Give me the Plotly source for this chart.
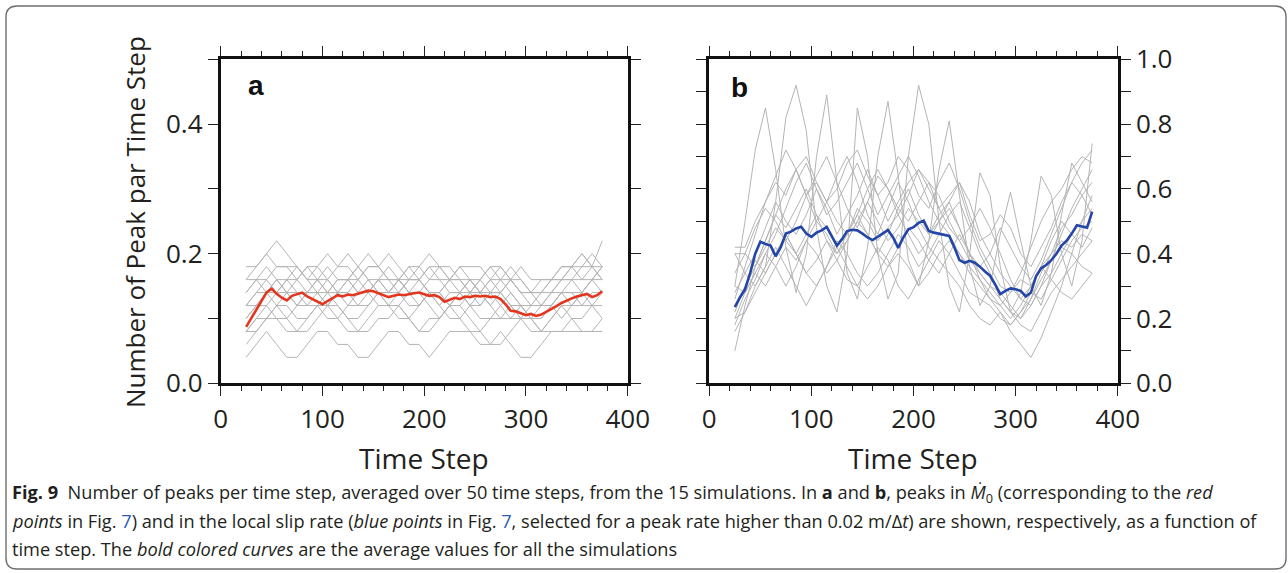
import plotly.graph_objects as go

W, H = 1288, 573

# ---------------- data ----------------
time_coarse = list(range(25, 376, 10))   # time steps for the individual simulations
time_fine = list(range(25, 376, 5))      # time steps for the averages

# panel a: peaks in M0-dot, counts of peaks in a 50-step window (value = count / 50)
a_sim_counts = [
    [2,3,4,3,2,2,3,4,4,3,3,2,2,3,4,4,3,3,2,3,4,4,4,3,3,4,3,2,2,3,4,4,4,4,4,4],
    [4,5,6,5,5,4,4,5,6,6,5,4,4,5,5,6,5,4,4,5,6,5,4,4,5,5,6,5,4,4,5,6,5,4,4,5],
    [5,6,7,8,7,6,6,7,8,7,6,6,7,8,8,7,6,6,7,7,8,7,6,5,5,6,7,6,5,5,6,7,7,6,6,7],
    [6,7,8,7,8,7,7,8,7,8,8,7,7,8,7,7,8,8,7,7,6,7,8,7,7,8,7,6,6,7,7,8,8,7,8,8],
    [7,8,9,8,7,8,9,8,7,7,8,9,8,8,7,8,9,8,7,7,8,8,7,7,8,9,8,7,6,6,7,8,9,8,8,9],
    [8,9,10,11,10,9,8,8,9,8,8,9,10,9,8,8,7,8,9,8,8,9,8,7,8,8,9,8,7,7,8,8,9,10,9,11],
    [3,4,5,6,6,5,5,6,7,6,5,5,6,7,6,6,5,6,7,6,5,5,6,7,6,5,5,6,5,4,5,6,6,7,6,6],
    [6,7,7,6,5,6,7,7,6,5,6,7,8,7,6,6,7,7,6,5,6,7,7,8,7,6,5,5,6,6,7,7,6,6,7,7],
    [7,8,8,9,9,8,7,8,8,9,10,9,8,7,7,8,8,9,10,9,8,8,7,8,9,9,8,7,7,8,8,9,9,10,9,9],
    [4,4,5,5,4,4,5,6,5,5,4,4,5,6,6,5,5,4,5,5,6,6,5,4,3,3,4,5,5,4,4,4,5,5,6,5],
    [9,9,10,9,9,9,8,9,10,9,9,8,9,9,10,9,8,8,9,9,8,9,9,9,8,7,8,9,8,8,8,9,9,9,10,9],
    [5,6,6,7,7,6,7,7,6,7,7,6,6,7,7,8,7,6,7,7,6,6,7,6,7,7,6,6,5,6,6,5,6,7,8,7],
    [8,8,7,7,8,8,9,9,8,7,7,8,9,9,8,8,9,9,8,8,7,7,8,8,9,8,8,7,7,7,8,8,8,9,9,8],
    [6,6,7,8,8,9,8,7,7,8,8,7,7,8,9,8,7,7,8,9,9,8,8,7,6,7,8,8,7,6,6,7,8,8,9,8],
    [4,5,5,6,7,7,6,6,6,7,8,8,7,6,6,7,8,8,7,6,7,7,6,6,7,7,6,5,5,5,6,7,7,7,8,9],
]
WINDOW = 50

a_mean = [0.087,0.100,0.115,0.128,0.140,0.146,0.138,0.132,0.128,0.135,0.138,0.140,
          0.134,0.130,0.126,0.122,0.127,0.132,0.136,0.134,0.137,0.136,0.138,0.140,
          0.143,0.142,0.139,0.136,0.133,0.135,0.137,0.136,0.138,0.139,0.140,0.137,
          0.135,0.136,0.133,0.126,0.129,0.132,0.130,0.134,0.133,0.135,0.134,0.135,
          0.133,0.134,0.130,0.122,0.112,0.111,0.108,0.105,0.107,0.104,0.106,0.110,
          0.115,0.119,0.124,0.128,0.131,0.134,0.136,0.138,0.133,0.136,0.142]

# panel b: peaks in the local slip rate
b_sims = [
    [0.30,0.50,0.72,0.85,0.66,0.42,0.28,0.40,0.70,0.89,0.62,0.34,0.26,0.42,0.70,0.87,0.64,0.38,
     0.30,0.44,0.66,0.81,0.58,0.36,0.24,0.30,0.46,0.59,0.44,0.30,0.24,0.34,0.52,0.68,0.62,0.56],
    [0.40,0.34,0.30,0.36,0.56,0.82,0.92,0.78,0.48,0.30,0.22,0.40,0.85,0.70,0.40,0.26,0.34,0.70,
     0.92,0.80,0.50,0.30,0.22,0.40,0.65,0.58,0.36,0.22,0.28,0.44,0.64,0.58,0.40,0.30,0.44,0.74],
    [0.42,0.42,0.50,0.56,0.62,0.58,0.66,0.70,0.62,0.56,0.60,0.68,0.72,0.64,0.58,0.62,0.70,0.66,
     0.58,0.54,0.62,0.68,0.60,0.50,0.42,0.36,0.30,0.28,0.34,0.42,0.50,0.56,0.60,0.66,0.70,0.68],
    [0.40,0.40,0.36,0.42,0.48,0.44,0.40,0.46,0.52,0.48,0.42,0.46,0.54,0.50,0.44,0.48,0.52,0.46,
     0.40,0.44,0.50,0.46,0.40,0.34,0.30,0.26,0.24,0.28,0.32,0.30,0.36,0.40,0.44,0.42,0.46,0.44],
    [0.10,0.24,0.36,0.44,0.52,0.60,0.66,0.58,0.50,0.56,0.64,0.70,0.62,0.52,0.46,0.54,0.62,0.56,
     0.48,0.42,0.38,0.34,0.30,0.24,0.20,0.18,0.22,0.16,0.12,0.08,0.14,0.22,0.30,0.40,0.50,0.58],
    [0.22,0.30,0.38,0.34,0.40,0.46,0.40,0.34,0.38,0.44,0.38,0.32,0.30,0.36,0.42,0.38,0.30,0.26,
     0.32,0.38,0.44,0.40,0.34,0.28,0.26,0.24,0.20,0.18,0.22,0.26,0.32,0.38,0.42,0.40,0.36,0.34],
    [0.26,0.36,0.46,0.56,0.64,0.72,0.66,0.58,0.64,0.70,0.62,0.54,0.48,0.56,0.64,0.60,0.52,0.58,
     0.66,0.62,0.54,0.48,0.44,0.48,0.54,0.48,0.40,0.32,0.26,0.24,0.30,0.38,0.46,0.54,0.60,0.66],
    [0.18,0.26,0.32,0.40,0.36,0.30,0.36,0.44,0.50,0.46,0.40,0.44,0.50,0.56,0.50,0.44,0.48,0.54,
     0.50,0.46,0.52,0.56,0.48,0.40,0.34,0.30,0.26,0.22,0.20,0.24,0.30,0.34,0.40,0.46,0.50,0.54],
    [0.34,0.40,0.48,0.54,0.50,0.44,0.50,0.58,0.62,0.56,0.50,0.46,0.52,0.60,0.66,0.60,0.54,0.50,
     0.56,0.62,0.58,0.50,0.44,0.38,0.34,0.30,0.28,0.24,0.20,0.26,0.34,0.40,0.48,0.52,0.58,0.62],
    [0.20,0.22,0.28,0.34,0.40,0.46,0.40,0.34,0.30,0.36,0.44,0.40,0.34,0.30,0.34,0.40,0.46,0.42,
     0.36,0.40,0.46,0.52,0.56,0.48,0.40,0.34,0.26,0.22,0.18,0.16,0.22,0.28,0.32,0.36,0.40,0.44],
    [0.28,0.34,0.40,0.48,0.56,0.50,0.46,0.52,0.60,0.54,0.46,0.52,0.58,0.66,0.58,0.50,0.56,0.62,
     0.66,0.60,0.54,0.58,0.62,0.52,0.44,0.46,0.52,0.48,0.40,0.36,0.42,0.48,0.56,0.62,0.68,0.72],
    [0.16,0.22,0.30,0.36,0.42,0.36,0.30,0.24,0.30,0.36,0.42,0.36,0.30,0.26,0.30,0.36,0.40,0.36,
     0.30,0.34,0.40,0.44,0.40,0.36,0.32,0.28,0.24,0.20,0.24,0.30,0.36,0.32,0.28,0.26,0.30,0.34],
    [0.24,0.30,0.36,0.44,0.52,0.48,0.54,0.60,0.52,0.44,0.40,0.46,0.52,0.46,0.40,0.46,0.54,0.60,
     0.52,0.46,0.50,0.56,0.62,0.56,0.46,0.40,0.34,0.30,0.26,0.30,0.36,0.44,0.50,0.46,0.42,0.48],
    [0.30,0.28,0.34,0.40,0.46,0.54,0.62,0.68,0.60,0.52,0.56,0.62,0.68,0.60,0.52,0.58,0.64,0.70,
     0.64,0.56,0.50,0.54,0.48,0.40,0.36,0.40,0.48,0.42,0.36,0.32,0.38,0.46,0.54,0.62,0.58,0.52],
    [0.20,0.28,0.34,0.30,0.36,0.42,0.38,0.44,0.40,0.34,0.38,0.44,0.50,0.46,0.40,0.36,0.42,0.48,
     0.44,0.38,0.34,0.40,0.46,0.40,0.32,0.26,0.22,0.18,0.22,0.28,0.26,0.32,0.38,0.44,0.48,0.50],
]

b_mean = [0.235,0.265,0.290,0.340,0.400,0.437,0.430,0.425,0.392,0.420,0.462,0.468,
          0.478,0.483,0.462,0.452,0.465,0.472,0.483,0.455,0.425,0.445,0.470,0.474,
          0.472,0.462,0.450,0.442,0.452,0.462,0.473,0.450,0.418,0.450,0.475,0.482,
          0.495,0.502,0.470,0.465,0.462,0.460,0.455,0.420,0.380,0.372,0.378,0.372,
          0.360,0.345,0.332,0.305,0.275,0.285,0.293,0.290,0.285,0.268,0.280,0.330,
          0.355,0.365,0.380,0.400,0.425,0.440,0.462,0.488,0.485,0.480,0.530]

x_ticks = [0, 100, 200, 300, 400]
ya_ticks = [0.0, 0.2, 0.4]
yb_ticks = [0.0, 0.2, 0.4, 0.6, 0.8, 1.0]

# ---------------- styling ----------------
GRAY = "#b4b4b4"
RED = "#e4361f"
BLUE = "#2446a8"
FONT = "Open Sans"
TXT = "#231f20"

def px(x):
    return x / W

def py(y):
    return 1 - y / H

fig = go.Figure()

for counts in a_sim_counts:
    fig.add_trace(go.Scatter(x=time_coarse, y=[c / WINDOW for c in counts], mode="lines",
                             line=dict(color=GRAY, width=1), xaxis="x", yaxis="y",
                             showlegend=False, hoverinfo="skip"))
fig.add_trace(go.Scatter(x=time_fine, y=a_mean, mode="lines",
                         line=dict(color=RED, width=2.6), xaxis="x", yaxis="y",
                         showlegend=False))

for s in b_sims:
    fig.add_trace(go.Scatter(x=time_coarse, y=s, mode="lines",
                             line=dict(color=GRAY, width=1), xaxis="x2", yaxis="y2",
                             showlegend=False, hoverinfo="skip"))
fig.add_trace(go.Scatter(x=time_fine, y=b_mean, mode="lines",
                         line=dict(color=BLUE, width=2.6), xaxis="x2", yaxis="y2",
                         showlegend=False))

y_dom = [py(383.3), py(59.3)]
xa_dom = [px(220.7), px(627.7)]
xb_dom = [px(709.3), px(1117.7)]

def xaxis(domain, anchor):
    return dict(domain=domain, anchor=anchor, range=[0, 400], tickvals=x_ticks,
                ticktext=[str(v) for v in x_ticks], ticks="outside", ticklen=10,
                tickwidth=1.2, tickcolor="#222", showline=True, linewidth=3,
                linecolor="#111", mirror="ticks", showgrid=False, zeroline=False,
                automargin=False,
                tickfont=dict(family=FONT, size=26, color=TXT),
                minor=dict(dtick=20, ticks="outside", ticklen=5, tickwidth=1.2,
                           tickcolor="#222", showgrid=False))

def yaxis(domain, anchor, rng, vals, side):
    return dict(domain=domain, anchor=anchor, range=rng, tickvals=vals,
                ticktext=["%.1f" % v for v in vals], ticks="outside", ticklen=10,
                tickwidth=1.2, tickcolor="#222", showline=True, linewidth=3,
                linecolor="#111", mirror="ticks", showgrid=False, zeroline=False,
                side=side, automargin=False,
                tickfont=dict(family=FONT, size=26, color=TXT),
                minor=dict(dtick=0.1, ticks="outside", ticklen=10, tickwidth=1.2,
                           tickcolor="#222", showgrid=False))

annotations = [
    dict(text="<b>a</b>", x=px(256), y=py(85), xref="paper", yref="paper", showarrow=False,
         font=dict(family="Liberation Sans", size=28, color="#111"), xanchor="center",
         yanchor="middle"),
    dict(text="<b>b</b>", x=px(739), y=py(87), xref="paper", yref="paper", showarrow=False,
         font=dict(family="Liberation Sans", size=28, color="#111"), xanchor="center",
         yanchor="middle"),
    dict(text="Time Step", x=px(424), y=py(458), xref="paper", yref="paper",
         showarrow=False, font=dict(family=FONT, size=28, color=TXT),
         xanchor="center", yanchor="middle"),
    dict(text="Time Step", x=px(913), y=py(458), xref="paper", yref="paper",
         showarrow=False, font=dict(family=FONT, size=28, color=TXT),
         xanchor="center", yanchor="middle"),
    dict(text="Number of Peak par Time Step", x=px(135), y=py(222), xref="paper",
         yref="paper", showarrow=False, textangle=-90,
         font=dict(family=FONT, size=26, color=TXT), xanchor="center", yanchor="middle"),
]

cap_font = dict(family=FONT, size=18.2, color="#231f20")
caption_lines = [
    "<b>Fig. 9</b>  Number of peaks per time step, averaged over 50 time steps, from the 15 simulations. "
    "In <b>a</b> and <b>b</b>, peaks in <i>Ṁ</i><sub>0</sub> (corresponding to the <i>red</i>",
    "<i>points</i> in Fig. <span style='color:#2a5db0'>7</span>) and in the local slip rate "
    "(<i>blue points</i> in Fig. <span style='color:#2a5db0'>7</span>, selected for a peak rate "
    "higher than 0.02 m/Δ<i>t</i>) are shown, respectively, as a function of",
    "time step. The <i>bold colored curves</i> are the average values for all the simulations",
]
for i, line in enumerate(caption_lines):
    annotations.append(dict(text=line, x=px(10), y=py(493 + 28 * i), xref="paper",
                            yref="paper", showarrow=False, font=cap_font,
                            xanchor="left", yanchor="middle", align="left"))

# rounded outer border
L, R, T, B, r = 6, 1286, 6, 569, 11
path = (f"M {px(L)},{py(T + r)} Q {px(L)},{py(T)} {px(L + r)},{py(T)} "
        f"L {px(R - r)},{py(T)} Q {px(R)},{py(T)} {px(R)},{py(T + r)} "
        f"L {px(R)},{py(B - r)} Q {px(R)},{py(B)} {px(R - r)},{py(B)} "
        f"L {px(L + r)},{py(B)} Q {px(L)},{py(B)} {px(L)},{py(B - r)} Z")

fig.update_layout(
    template="none",
    width=W, height=H, margin=dict(l=0, r=0, t=0, b=0, pad=0), autosize=False,
    paper_bgcolor="white", plot_bgcolor="white", showlegend=False,
    xaxis=xaxis(xa_dom, "y"),
    yaxis=yaxis(y_dom, "x", [0, 0.5], ya_ticks, "left"),
    xaxis2=xaxis(xb_dom, "y2"),
    yaxis2=yaxis(y_dom, "x2", [0, 1.0], yb_ticks, "right"),
    annotations=annotations,
    shapes=[dict(type="path", path=path, xref="paper", yref="paper",
                 line=dict(color="#6d6e70", width=1.4), layer="above")],
)

fig.write_html("out.html")
